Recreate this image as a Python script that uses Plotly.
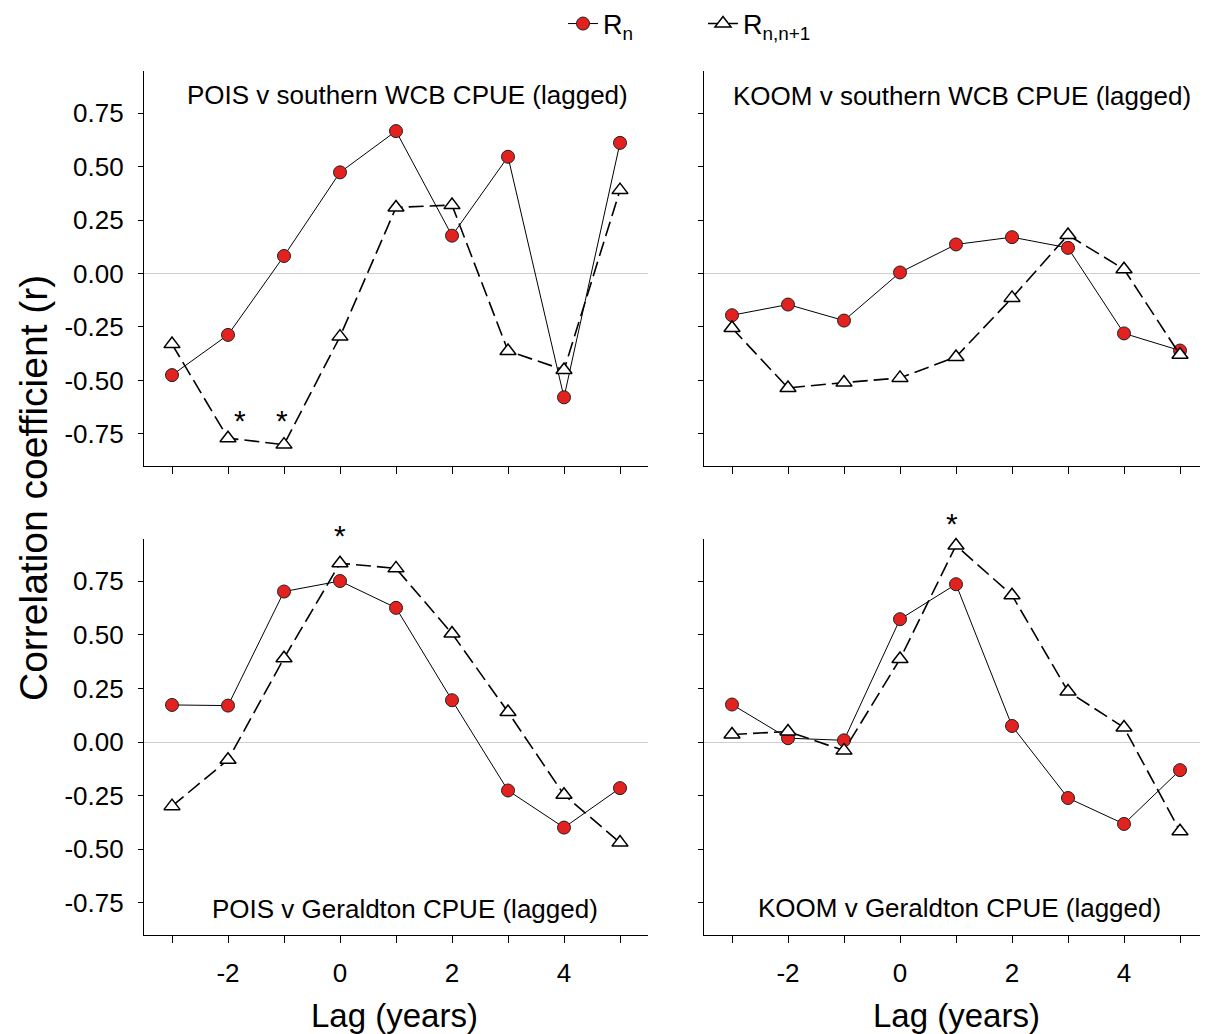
import plotly.graph_objects as go

# ---------------- data ----------------
lags = [-3, -2, -1, 0, 1, 2, 3, 4, 5]

pois_wcb_rn = [-0.475, -0.287, 0.082, 0.473, 0.666, 0.177, 0.546, -0.579, 0.611]
pois_wcb_rnn = [-0.33, -0.77, -0.80, -0.295, 0.309, 0.32, -0.362, -0.451, 0.39]

koom_wcb_rn = [-0.195, -0.145, -0.22, 0.005, 0.136, 0.17, 0.12, -0.28, -0.36]
koom_wcb_rnn = [-0.255, -0.535, -0.51, -0.488, -0.39, -0.114, 0.18, 0.02, -0.38]

pois_ger_rn = [0.173, 0.17, 0.702, 0.751, 0.626, 0.195, -0.226, -0.399, -0.215]
pois_ger_rnn = [-0.299, -0.083, 0.391, 0.834, 0.81, 0.506, 0.14, -0.246, -0.469]

koom_ger_rn = [0.175, 0.018, 0.008, 0.573, 0.736, 0.075, -0.261, -0.382, -0.131]
koom_ger_rnn = [0.035, 0.049, -0.04, 0.387, 0.917, 0.685, 0.236, 0.068, -0.416]

panel_titles = [
    "POIS v southern WCB CPUE (lagged)",
    "KOOM v southern WCB CPUE (lagged)",
    "POIS v Geraldton CPUE (lagged)",
    "KOOM v Geraldton CPUE (lagged)",
]

y_tickvals = [-0.75, -0.5, -0.25, 0.0, 0.25, 0.5, 0.75]
y_ticktext = ["-0.75", "-0.50", "-0.25", "0.00", "0.25", "0.50", "0.75"]
x_tickvals = lags
x_ticktext = ["", "-2", "", "0", "", "2", "", "4", ""]

legend_names = ["R<sub>n</sub>", "R<sub>n,n+1</sub>"]
x_title = "Lag (years)"
y_title = "Correlation coefficient (r)"

# significance markers: (panel index, lag, r)
stars = [(1, -1.79, -0.67), (1, -1.04, -0.67), (3, 0.0, 0.98), (4, 0.93, 1.04)]

# ---------------- figure ----------------
# the page adds an 8px body margin, so the figure is 8px smaller and all
# reference pixel positions are shifted by 8px
OFF = 8
W, H = 1208 - OFF, 1034 - OFF
FONT = "Liberation Sans, Arial, Helvetica, sans-serif"
RED = "#e3211f"
Y_MIN, Y_MAX = -0.9, 0.947

series = [
    (pois_wcb_rn, pois_wcb_rnn),
    (koom_wcb_rn, koom_wcb_rnn),
    (pois_ger_rn, pois_ger_rnn),
    (koom_ger_rn, koom_ger_rnn),
]

# reference pixel boxes of panels: (left, right, top, bottom)
boxes = [
    (144, 648, 71, 466),
    (704, 1208, 71, 466),
    (144, 648, 539, 935),
    (704, 1208, 539, 935),
]


def px_x(p):
    return (p - OFF) / W


def px_y(p):
    return 1 - (p - OFF) / H


fig = go.Figure()

for i, (rn, rnn) in enumerate(series):
    k = i + 1
    xa = "x" if k == 1 else f"x{k}"
    ya = "y" if k == 1 else f"y{k}"
    fig.add_trace(go.Scatter(
        x=lags, y=rn, xaxis=xa, yaxis=ya, mode="lines+markers",
        name=legend_names[0], showlegend=(k == 1), cliponaxis=False,
        line=dict(color="black", width=1),
        marker=dict(symbol="circle", size=13, color=RED,
                    line=dict(color="#222222", width=1)),
    ))
    fig.add_trace(go.Scatter(
        x=lags, y=rnn, xaxis=xa, yaxis=ya, mode="lines+markers",
        name=legend_names[1], showlegend=(k == 1), cliponaxis=False,
        line=dict(color="black", width=1.6, dash="15px,6px"),
        marker=dict(symbol="triangle-up", size=14, color="white",
                    line=dict(color="black", width=1.5)),
    ))

layout = dict(
    width=W, height=H,
    margin=dict(l=0, r=0, t=0, b=0, autoexpand=False),
    paper_bgcolor="white", plot_bgcolor="white",
    font=dict(family=FONT, color="black", size=24),
    showlegend=True,
    legend=dict(orientation="h", x=px_x(563), xanchor="left",
                y=px_y(24), yanchor="middle",
                font=dict(size=27, family=FONT), bgcolor="rgba(0,0,0,0)",
                entrywidth=95, entrywidthmode="pixels", tracegroupgap=0),
)

for i, (l, r, t, b) in enumerate(boxes):
    k = i + 1
    xkey = "xaxis" if k == 1 else f"xaxis{k}"
    ykey = "yaxis" if k == 1 else f"yaxis{k}"
    left_col = k in (1, 3)
    bottom_row = k in (3, 4)
    layout[xkey] = dict(
        domain=[max(px_x(l), 0), min(px_x(r), 1.0)],
        anchor="y" if k == 1 else f"y{k}",
        range=[-3.5, 5.5],
        tickvals=x_tickvals, ticktext=x_ticktext,
        showticklabels=bottom_row,
        ticks="outside", ticklen=7, tickwidth=1.2, tickcolor="black",
        ticklabelstandoff=8,
        tickfont=dict(size=26, family=FONT),
        showline=True, linecolor="black", linewidth=1.3,
        showgrid=False, zeroline=False,
    )
    layout[ykey] = dict(
        domain=[px_y(b), px_y(t)],
        anchor="x" if k == 1 else f"x{k}",
        range=[Y_MIN, Y_MAX],
        tickvals=y_tickvals, ticktext=y_ticktext,
        showticklabels=left_col,
        ticks="outside", ticklen=5, tickwidth=1.2, tickcolor="black",
        ticklabelstandoff=9,
        tickfont=dict(size=26, family=FONT),
        showline=True, linecolor="black", linewidth=1.3,
        showgrid=False,
        zeroline=True, zerolinecolor="#cfcfcf", zerolinewidth=1,
    )

fig.update_layout(**layout)

annotations = []
# panel titles
title_pos = [(1.2, 0.835), (1.1, 0.828), (1.16, -0.78), (1.06, -0.775)]
for i, (tx, ty) in enumerate(title_pos):
    k = i + 1
    annotations.append(dict(
        text=panel_titles[i], x=tx, y=ty,
        xref="x" if k == 1 else f"x{k}", yref="y" if k == 1 else f"y{k}",
        showarrow=False, font=dict(size=26, family=FONT),
        xanchor="center", yanchor="middle",
    ))
# stars (placed with the y domain reference so they may sit above the axis top)
for (k, sx, sy) in stars:
    yk = "y" if k == 1 else f"y{k}"
    annotations.append(dict(
        text="*", x=sx, y=(sy - Y_MIN) / (Y_MAX - Y_MIN),
        xref="x" if k == 1 else f"x{k}", yref=f"{yk} domain",
        showarrow=False, font=dict(size=30, family=FONT),
        xanchor="center", yanchor="middle", yshift=-4,
    ))
# x axis titles
for cx in (394, 956):
    annotations.append(dict(
        text=x_title, x=px_x(cx), y=px_y(1015), xref="paper", yref="paper",
        showarrow=False, font=dict(size=33, family=FONT),
        xanchor="center", yanchor="middle",
    ))
# y axis title
annotations.append(dict(
    text=y_title, x=px_x(33), y=px_y(488), xref="paper", yref="paper",
    showarrow=False, font=dict(size=39, family=FONT), textangle=-90,
    xanchor="center", yanchor="middle",
))
fig.update_layout(annotations=annotations)

fig.write_html("out.html")
